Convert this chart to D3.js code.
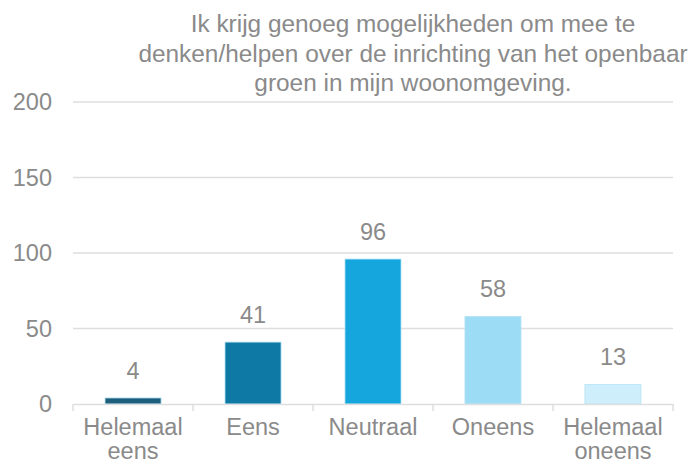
<!DOCTYPE html>
<html>
<head>
<meta charset="utf-8">
<script src="https://cdn.jsdelivr.net/npm/d3@7"></script>
<style>
  body { margin: 0; background: #fff; }
  text { font-family: "Liberation Sans", Arial, sans-serif; fill: #8a8a8a; }
</style>
</head>
<body>
<div id="chart"></div>
<script>
// data
const categories = ["Helemaal eens", "Eens", "Neutraal", "Oneens", "Helemaal oneens"];
const counts = [4, 41, 96, 58, 13];
const barColors = ["#1d5f7c", "#0f79a6", "#14a6dc", "#9cdcf5", "#cdeefa"];
const yTicks = [0, 50, 100, 150, 200];
const titleLines = [
    "Ik krijg genoeg mogelijkheden om mee te",
    "denken/helpen over de inrichting van het openbaar",
    "groen in mijn woonomgeving."
];

const width = 692;
const height = 462;
const margin = { top: 102, right: 19, bottom: 58, left: 73 };
const innerWidth = width - margin.left - margin.right;
const innerHeight = height - margin.top - margin.bottom;

const svg = d3.select("#chart")
    .append("svg")
    .attr("width", width)
    .attr("height", height);

const chart = svg.append("g")
    .attr("transform", `translate(${margin.left}, ${margin.top})`);

// scales
const xScale = d3.scaleBand()
    .domain(categories)
    .range([0, innerWidth])
    .paddingInner(0.533)
    .paddingOuter(0.267);

const band = d3.scaleBand().domain(categories).range([0, innerWidth]);

const yScale = d3.scaleLinear()
    .domain([0, 200])
    .range([innerHeight, 0]);

// gridlines
chart.append("g")
    .selectAll("line")
    .data(yTicks.slice(1))
    .enter()
    .append("line")
    .attr("x1", 0)
    .attr("x2", innerWidth)
    .attr("y1", d => yScale(d))
    .attr("y2", d => yScale(d))
    .attr("stroke", "#dedede")
    .attr("stroke-width", 1.5);

// y tick labels
chart.append("g")
    .selectAll("text")
    .data(yTicks)
    .enter()
    .append("text")
    .attr("x", -21)
    .attr("y", d => yScale(d))
    .attr("dy", "0.36em")
    .attr("text-anchor", "end")
    .style("font-size", "23.5px")
    .text(d => d);

// bars
chart.selectAll(".bar")
    .data(categories)
    .enter()
    .append("rect")
    .attr("class", "bar")
    .attr("x", d => xScale(d))
    .attr("y", (d, i) => yScale(counts[i]))
    .attr("width", xScale.bandwidth())
    .attr("height", (d, i) => innerHeight - yScale(counts[i]))
    .attr("fill", (d, i) => barColors[i])
    .attr("stroke", "#b5e3f5")
    .attr("stroke-width", 0.8);

// value labels
chart.selectAll(".value")
    .data(categories)
    .enter()
    .append("text")
    .attr("class", "value")
    .attr("x", d => xScale(d) + xScale.bandwidth() / 2)
    .attr("y", (d, i) => yScale(counts[i]) - 19)
    .attr("text-anchor", "middle")
    .style("font-size", "23.5px")
    .text((d, i) => counts[i]);

// x axis
const xAxis = d3.axisBottom(band).tickSize(0).tickFormat("");
const axisG = chart.append("g")
    .attr("transform", `translate(0, ${innerHeight})`)
    .call(xAxis);
axisG.select(".domain").attr("stroke", "#dedede").attr("stroke-width", 1.5);

// category separators
axisG.selectAll(".sep")
    .data(d3.range(categories.length + 1))
    .enter()
    .append("line")
    .attr("x1", i => i * band.bandwidth())
    .attr("x2", i => i * band.bandwidth())
    .attr("y1", 0)
    .attr("y2", 7)
    .attr("stroke", "#dedede")
    .attr("stroke-width", 1.5);

// category labels, two lines for the long ones
const catLabels = chart.append("g")
    .selectAll("text")
    .data(categories)
    .enter()
    .append("text")
    .attr("text-anchor", "middle")
    .attr("transform", d => `translate(${band(d) + band.bandwidth() / 2}, ${innerHeight + 31})`)
    .style("font-size", "23.5px");

catLabels.each(function (d) {
    const words = d.split(" ");
    d3.select(this).selectAll("tspan")
        .data(words)
        .enter()
        .append("tspan")
        .attr("x", 0)
        .attr("dy", (w, i) => i === 0 ? 0 : 24)
        .text(w => w);
});

// title
svg.append("text")
    .attr("text-anchor", "middle")
    .style("font-size", "24.4px")
    .selectAll("tspan")
    .data(titleLines)
    .enter()
    .append("tspan")
    .attr("x", 413)
    .attr("y", (d, i) => 32 + i * 29.5)
    .text(d => d);
</script>
</body>
</html>
